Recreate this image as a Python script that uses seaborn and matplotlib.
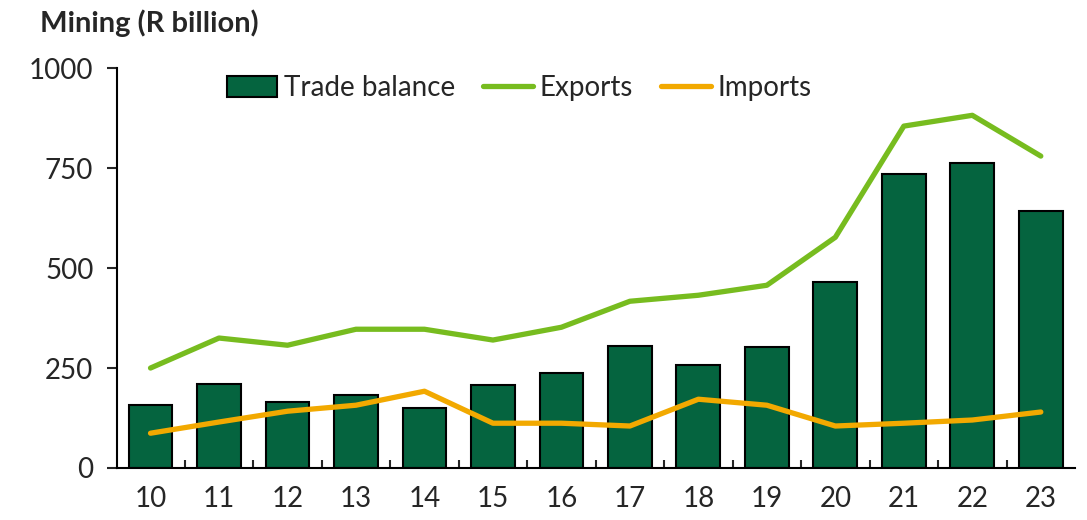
import numpy as np
import pandas as pd
import matplotlib
matplotlib.use("Agg")
import matplotlib.pyplot as plt
import seaborn as sns
from matplotlib.ticker import FixedLocator

# Données (R milliards)
years = ["10", "11", "12", "13", "14", "15", "16", "17", "18", "19", "20", "21", "22", "23"]
trade_balance = [158, 210, 165, 183, 150, 207, 238, 305, 257, 302, 465, 735, 762, 642]
exports = [250, 325, 307, 347, 347, 320, 352, 417, 432, 457, 577, 855, 882, 780]
imports = [87, 115, 142, 157, 192, 112, 112, 105, 172, 157, 105, 112, 120, 140]

sns.set_style("white")
plt.rcParams["font.family"] = ["Lato", "DejaVu Sans"]

df = pd.DataFrame({"year": years, "trade": trade_balance,
                   "exports": exports, "imports": imports})

fig = plt.figure(figsize=(10.87, 5.2), dpi=100)
ax = fig.add_axes([0.1076, 0.1, 0.8814, 0.769])

sns.barplot(data=df, x="year", y="trade", color="#05643F", saturation=1,
            width=0.64, edgecolor="black", linewidth=1.5, ax=ax,
            label="Trade balance")
x = np.arange(len(years))
sns.lineplot(x=x, y=df["exports"], color="#77BC1F", linewidth=3.8, ax=ax,
             label="Exports")
sns.lineplot(x=x, y=df["imports"], color="#F2A900", linewidth=3.8, ax=ax,
             label="Imports")

ax.set_xlim(-0.49, 13.5)
ax.set_ylim(0, 1000)
ax.set_yticks([0, 250, 500, 750, 1000])
ax.set_xlabel("")
ax.set_ylabel("")
for s in ["top", "right"]:
    ax.spines[s].set_visible(False)
for s in ["left", "bottom"]:
    ax.spines[s].set_linewidth(1.5)
    ax.spines[s].set_color("black")

ax.tick_params(axis="y", direction="out", length=7, width=1.5, labelsize=20,
               left=True, pad=10)
ax.tick_params(axis="x", which="major", length=0, labelsize=20, pad=13)
ax.xaxis.set_minor_locator(FixedLocator(np.arange(0.5, 13, 1)))
ax.tick_params(axis="x", which="minor", direction="in", length=6, width=1.5,
               bottom=True)

# ordre de la légende : barres d'abord
handles, labels = ax.get_legend_handles_labels()
order = [labels.index(l) for l in ["Trade balance", "Exports", "Imports"]]
ax.legend([handles[i] for i in order], [labels[i] for i in order],
          loc="upper center", bbox_to_anchor=(0.42, 1.045), ncol=3,
          frameon=False, fontsize=20, handlelength=1.8, handletextpad=0.25,
          columnspacing=1.0, handleheight=0.8)

fig.text(0.037, 0.955, "Mining (R billion)", fontsize=21, fontweight="bold",
         ha="left", va="center")

plt.savefig("out.png", dpi=100)
